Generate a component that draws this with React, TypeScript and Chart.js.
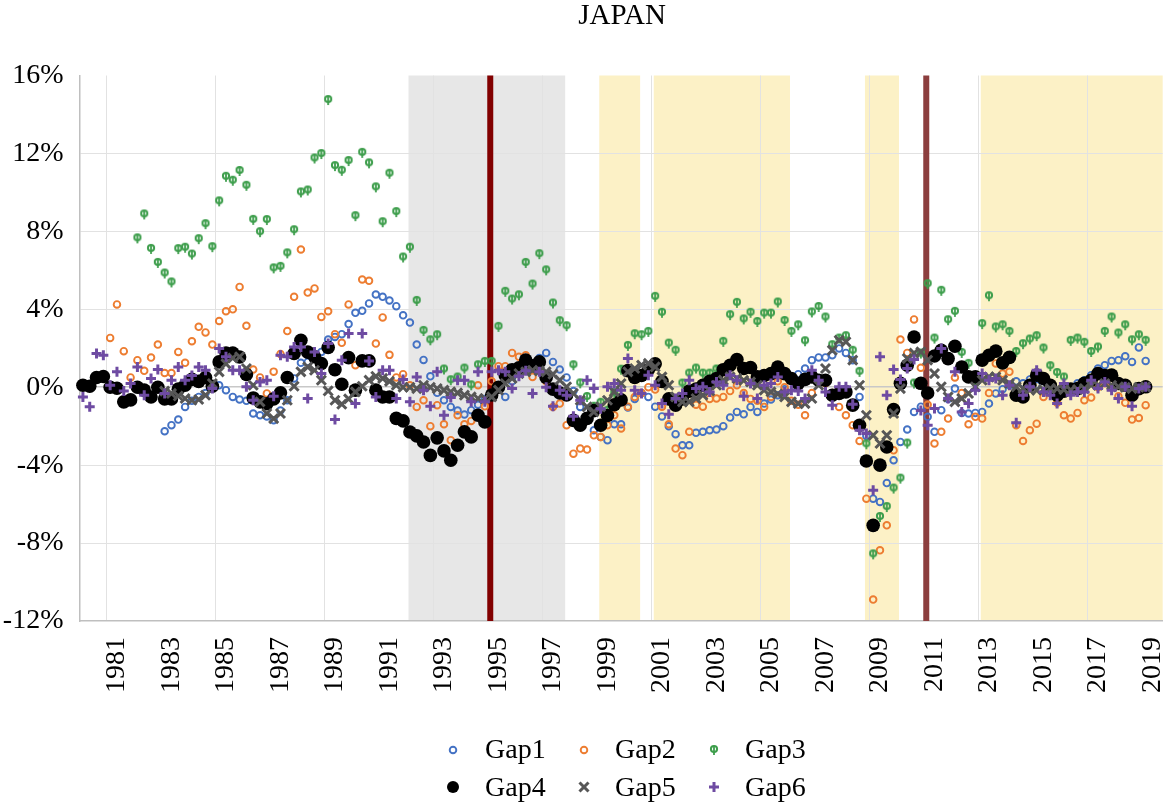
import React, { useEffect, useRef } from 'react';
import { Chart, registerables } from 'chart.js';
import { drawPoint } from 'chart.js/helpers';

Chart.register(...registerables);

const N = null;

// Quarterly categories 1980Q1 .. 2019Q3
const quarters: string[] = [];
for (let y = 1980; y <= 2019; y++) for (let q = 1; q <= 4; q++) quarters.push(y + 'Q' + q);
quarters.length = 159;

// Year tick labels (shown at the 2nd quarter of each odd year)
const yearLabels = ['1981', '1983', '1985', '1987', '1989', '1991', '1993', '1995', '1997', '1999',
  '2001', '2003', '2005', '2007', '2009', '2011', '2013', '2015', '2017', '2019'];
const yearLabelQuarter = 'Q2';
// vertical gridlines at the start of these years
const gridYears = ['1981', '1985', '1989', '1993', '1997', '2001', '2005', '2009', '2013', '2017'];

// Shaded periods and event lines
const grayPeriod = ['1992Q1', '1997Q3'];
const yellowPeriods = [['1999Q1', '2000Q2'], ['2001Q1', '2005Q4'], ['2008Q4', '2009Q4'], ['2013Q1', '2019Q3']];
const eventQuarters = ['1995Q1', '2011Q1'];

const gap1 = [
  N, N, N, N, N, N, N, N,
  N, N, N, N, -2.26, -1.95, -1.66, -1.01,
  -0.7, -0.5, -0.3, 0.0, 0.1, -0.15, -0.5, -0.63,
  -0.7, -1.35, -1.44, -1.5, -1.69, -1.2, -0.67, 0.45,
  1.25, 1.3, 1.5, 1.81, 2.45, 2.58, 2.72, 3.24,
  3.82, 3.92, 4.3, 4.76, 4.64, 4.45, 4.16, 3.69,
  3.32, 2.19, 1.4, 0.56, -0.29, -0.67, -1.01, -1.2,
  -1.4, -1.18, -0.9, -0.6, -0.3, 0.0, -0.5, 0.3,
  0.7, 1.0, 1.2, 1.5, 1.76, 1.3, 0.91, 0.5,
  -0.2, -1.01, -1.6, -2.21, -2.55, -2.72, -1.9, -1.9,
  -1.04, -0.6, -0.3, -0.5, -1.0, -1.5, -2.0, -2.41,
  -2.98, -2.98, -2.34, -2.29, -2.21, -2.17, -2.0, -1.56,
  -1.27, -1.39, -1.01, -1.27, -0.84, -0.63, -0.41, -0.1,
  0.3, 0.67, 0.96, 1.39, 1.53, 1.53, 1.64, 1.99,
  1.76, 1.39, -0.5, -2.5, -5.72, -5.89, -4.92, -3.75,
  -2.81, -2.17, -1.27, -1.0, -1.52, -2.29, -1.18, -0.6,
  -0.07, -1.32, -1.35, -1.32, -1.27, -0.84, -0.32, -0.1,
  0.1, 0.3, 0.2, 0.4, 0.1, 0.3, 0.0, -0.3,
  -0.1, 0.0, 0.2, 0.36, 0.62, 0.96, 1.13, 1.35,
  1.39, 1.59, 1.3, 2.04, 1.35, N, N,
];

const gap2 = [
  N, N, N, N, 2.53, 4.25, 1.85, 0.5,
  1.39, 0.84, 1.52, 2.19, 0.73, 0.73, 1.81, 1.25,
  2.36, 3.1, 2.81, 2.19, 3.4, 3.9, 4.0, 5.15,
  3.15, 0.91, 0.5, -0.32, 0.8, 1.7, 2.88, 4.64,
  7.07, 4.86, 5.07, 3.61, 3.9, 2.72, 2.28, 4.25,
  1.13, 5.53, 5.46, 2.24, 3.58, 1.66, 0.5, 0.67,
  0.1, -1.01, -0.67, -2.0, -0.92, -1.9, -2.72, -1.44,
  -1.9, -1.73, 0.1, -0.98, 0.3, 1.08, 1.08, 1.76,
  1.56, 1.64, 0.53, 1.0, 0.3, -1.01, -0.84, -1.95,
  -3.41, -3.15, -3.2, -2.47, -2.55, -1.95, -1.44, -2.12,
  -1.0, -0.5, -0.3, 0.0, -0.12, -1.0, -1.9, -3.15,
  -3.49, -2.29, -0.9, -1.0, -0.6, -0.58, -0.5, -0.2,
  0.1, -0.3, -0.6, -0.7, -1.01, -0.5, 0.3, 0.0,
  -0.7, -0.9, -1.44, -0.3, 0.3, 0.2, -0.3, -1.01,
  -1.44, -1.95, -2.76, -5.72, -10.9, -8.37, -7.09, -3.24,
  2.45, 1.76, 3.48, 1.0, -0.9, -2.89, -2.29, -1.61,
  0.5, -0.3, -1.9, -1.52, -1.61, -0.3, 1.22, 0.7,
  0.79, -1.95, -2.76, -2.21, -1.87, -0.5, -0.3, -0.8,
  -1.44, -1.61, -1.32, -0.67, -0.53, 0.0, 0.2, 0.0,
  -0.46, -0.8, -1.66, -1.58, -0.92, N, N,
];

const gap3 = [
  N, N, N, N, N, N, N, N,
  7.64, 8.87, 7.1, 6.38, 5.84, 5.38, 7.09, 7.16,
  6.81, 7.6, 8.37, 7.19, 9.54, 10.8, 10.6, 11.1,
  10.34, 8.59, 7.96, 8.58, 6.1, 6.18, 6.87, 8.06,
  10.0, 10.1, 11.74, 11.97, 14.74, 11.35, 11.11, 11.61,
  8.78, 12.03, 11.49, 10.26, 8.47, 10.96, 8.99, 6.66,
  7.16, 4.43, 2.89, 2.41, 2.67, 0.91, 0.36, 0.5,
  0.96, 0.1, 1.13, 1.3, 1.3, 3.1, 4.9, 4.5,
  4.72, 6.38, 5.27, 6.83, 6.0, 4.3, 3.39, 3.13,
  1.13, 0.2, -0.5, -1.0, -0.8, -1.2, -0.3, 0.9,
  2.12, 2.72, 2.67, 2.84, 4.64, 3.82, 2.24, 1.87,
  0.19, 0.7, 0.96, 0.7, 0.7, 0.91, 2.33, 3.7,
  4.33, 3.48, 3.82, 3.35, 3.78, 3.78, 4.35, 3.4,
  2.84, 3.18, 2.36, 3.84, 4.12, 3.58, 2.16, 2.5,
  2.62, 1.87, 0.79, -2.93, -8.58, -6.66, -6.15, -5.2,
  -4.69, -2.89, 0.19, 1.73, 5.29, 2.5, 4.95, 3.44,
  3.87, 1.76, 1.2, 0.2, 3.24, 4.67, 3.07, 3.18,
  2.84, 1.81, 2.21, 2.45, 2.62, 1.99, 1.08, 0.73,
  0.5, 2.38, 2.5, 2.28, 1.81, 2.04, 2.84, 3.58,
  2.76, 3.18, 2.41, 2.67, 2.38, N, N,
];

const gap4 = [
  0.1, 0.05, 0.5, 0.55, 0.0, -0.05, -0.75, -0.65,
  0.0, -0.15, -0.5, 0.0, -0.6, -0.6, -0.1, 0.1,
  0.4, 0.3, 0.5, 0.05, 1.3, 1.75, 1.75, 1.55,
  0.65, -0.55, -0.75, -0.85, -0.6, -0.29, 0.5, 1.73,
  2.41, 1.8, 1.56, 1.22, 2.04, 0.9, 0.15, 1.52,
  -0.15, 1.35, 1.35, -0.15, -0.5, -0.5, -1.6, -1.73,
  -2.3, -2.5, -2.81, -3.5, -2.6, -3.27, -3.75, -2.98,
  -2.29, -2.55, -1.44, -1.78, -0.4, 0.0, 0.6, 0.9,
  1.0, 1.4, 1.1, 1.3, 0.5, -0.1, -0.3, -0.4,
  -1.7, -1.95, -1.6, -1.2, -1.95, -1.45, -0.9, -0.65,
  0.85, 0.5, 0.6, 0.9, 1.2, 0.3, -0.6, -0.92,
  -0.6, -0.2, -0.1, 0.1, 0.3, 0.45, 0.9, 1.13,
  1.42, 0.96, 1.01, 0.53, 0.6, 0.7, 1.04, 0.7,
  0.45, 0.19, 0.4, 0.53, 0.36, 0.36, -0.41, -0.32,
  -0.24, -0.92, -1.95, -3.79, -7.09, -4.0, -3.07, -1.15,
  0.2, 1.13, 2.58, 0.2, -0.3, 1.6, 1.9, 1.47,
  2.1, 1.04, 0.53, 0.53, 1.39, 1.64, 1.85, 1.25,
  1.53, -0.41, -0.5, 0.1, 0.62, 0.45, 0.1, -0.41,
  -0.2, -0.1, -0.07, 0.2, 0.36, 0.7, 0.6, 0.62,
  0.19, 0.1, -0.41, -0.07, 0.02, N, N,
];

const gap5 = [
  N, N, N, N, N, N, N, N,
  N, N, N, N, -0.2, -0.32, -0.45, -0.58,
  -0.67, -0.63, -0.41, 0.19, 0.79, 1.2, 1.5, 1.56,
  0.96, 0.1, -0.75, -1.35, -1.61, -1.35, -0.67, 0.05,
  0.79, 1.04, 0.87, 0.36, -0.19, -0.67, -0.87, -0.6,
  -0.24, 0.05, 0.36, 0.56, 0.45, 0.3, 0.1, 0.0,
  0.0, -0.07, 0.1, 0.0, -0.07, -0.15, -0.24, -0.29,
  -0.41, -0.5, -0.58, -0.58, -0.5, -0.15, 0.19, 0.45,
  0.7, 0.79, 0.87, 0.84, 0.79, 0.67, 0.36, 0.02,
  -0.32, -0.67, -1.01, -1.27, -1.01, -0.67, -0.24, 0.19,
  0.79, 0.96, 1.13, 1.22, 1.04, 0.53, 0.1, -0.5,
  -0.75, -0.75, -0.58, -0.41, -0.19, 0.1, 0.36, 0.53,
  0.45, 0.35, 0.27, 0.1, -0.15, -0.24, -0.35, -0.5,
  -0.75, -0.84, -0.84, -0.58, 0.1, 0.96, 1.9, 2.41,
  2.33, 1.39, 0.1, -1.44, -2.47, -2.89, -2.47, -1.35,
  -0.07, 1.47, 1.75, 1.81, 1.39, 0.7, 0.02, -0.5,
  -0.75, -0.58, -0.32, 0.02, 0.36, 0.53, 0.53, 0.36,
  0.19, 0.02, -0.07, -0.15, -0.15, -0.12, -0.07, -0.07,
  -0.12, -0.15, -0.12, -0.07, 0.1, 0.1, 0.19, 0.1,
  0.02, 0.0, -0.07, 0.0, 0.02, N, N,
];

const gap6 = [
  -0.5, -1.0, 1.73, 1.64, 0.1, 0.79, -0.2, 0.19,
  1.04, -0.41, 0.45, 0.91, -0.32, 0.36, 1.04, 0.36,
  0.6, 1.04, 0.87, -0.07, 1.99, 1.56, 0.87, 0.87,
  0.02, -0.67, 0.27, 0.36, -0.46, 1.64, 1.56, 2.07,
  2.07, -0.58, 1.81, 0.7, 2.24, -1.66, 1.39, 2.76,
  -0.84, 2.76, 1.35, -0.5, 0.87, 0.87, -0.58, 0.39,
  -0.75, 0.53, -0.15, -0.98, 0.79, -1.44, -0.53, 0.36,
  0.36, -0.75, 0.79, -0.75, 0.8, 0.87, 0.79, -0.07,
  0.56, 0.84, -0.32, 0.8, 0.0, -0.98, -0.15, -0.41,
  -1.49, -0.67, 0.36, -0.07, -1.1, 0.02, 0.19, -0.15,
  1.47, -0.15, -0.32, 0.62, 0.1, -0.84, -1.39, -0.58,
  -0.32, 0.36, -0.07, 0.02, -0.24, 0.27, 0.1, 0.62,
  0.36, -0.46, 0.19, -0.58, 0.1, 0.19, 0.53, -0.24,
  -0.15, -0.2, -0.58, 0.87, 0.36, -0.24, -0.92, 0.02,
  0.02, -0.87, -2.21, -2.38, -5.29, 1.56, -0.41, 0.91,
  0.39, 0.96, 1.42, -1.2, -1.95, -1.09, 1.99, -0.58,
  0.79, -1.27, -0.84, -0.15, 0.7, 0.36, 0.45, -0.41,
  0.1, -1.83, -0.41, 0.02, 0.87, -0.24, -0.41, -0.84,
  0.19, -0.41, -0.24, -0.24, 0.36, -0.07, 0.27, -0.15,
  -0.58, 0.02, -0.98, -0.07, 0.02, N, N,
];

const seriesNames = ['Gap1', 'Gap2', 'Gap3', 'Gap4', 'Gap5', 'Gap6'];
const seriesData = [gap1, gap2, gap3, gap4, gap5, gap6];

const BLUE = '#4472C4';
const ORANGE = '#ED7D31';
const GREEN = '#3E9E4C';
const BLACK = '#000000';
const DARKGRAY = '#575757';
const PURPLE = '#6E4BA2';

const FONT_FAMILY = "'Times New Roman', 'Liberation Serif', serif";
const BAND_SHIFT = 2; // px, shading bars sit slightly right of category edges

function makeGreenMarker(): HTMLCanvasElement {
  const c = document.createElement('canvas');
  c.width = 12;
  c.height = 16;
  const g = c.getContext('2d')!;
  g.strokeStyle = GREEN;
  g.lineWidth = 2;
  g.beginPath();
  g.arc(6, 7, 3.1, 0, Math.PI * 2);
  g.stroke();
  g.lineWidth = 1.8;
  g.beginPath();
  g.moveTo(6, 3.8);
  g.lineTo(6, 13);
  g.stroke();
  return c;
}

export default function App() {
  const ref = useRef<HTMLCanvasElement>(null);

  useEffect(() => {
    const canvas = ref.current;
    if (!canvas) return;
    const greenMarker = makeGreenMarker();

    const specs: any[] = [
      { style: 'circle', r: 3.3, bw: 1.9, fill: 'rgba(0,0,0,0)', stroke: BLUE },
      { style: 'circle', r: 3.3, bw: 1.9, fill: 'rgba(0,0,0,0)', stroke: ORANGE },
      { style: greenMarker, r: 4, bw: 0, fill: GREEN, stroke: GREEN },
      { style: 'circle', r: 6.8, bw: 0, fill: BLACK, stroke: BLACK },
      { style: 'crossRot', r: 6.4, bw: 3, fill: DARKGRAY, stroke: DARKGRAY },
      { style: 'cross', r: 5, bw: 3, fill: PURPLE, stroke: PURPLE },
    ];

    const datasets = seriesData.map((d, i) => ({
      label: seriesNames[i],
      data: d,
      showLine: false,
      order: 6 - i,
      pointStyle: specs[i].style,
      pointRadius: specs[i].r,
      pointHoverRadius: specs[i].r,
      pointBorderWidth: specs[i].bw,
      pointBackgroundColor: specs[i].fill,
      pointBorderColor: specs[i].stroke,
      backgroundColor: specs[i].fill,
      borderColor: specs[i].stroke,
    }));

    const idx = (q: string) => quarters.indexOf(q);

    const decor = {
      id: 'decor',
      beforeDraw(chart: any) {
        const { ctx, chartArea: a, scales } = chart;
        const x = scales.x;
        const w = x.getPixelForValue(1) - x.getPixelForValue(0);
        const left = (q: string) => x.getPixelForValue(idx(q)) - w / 2 + BAND_SHIFT;
        const band = (p: string[], color: string) => {
          const x0 = left(p[0]);
          const x1 = Math.min(left(p[1]) + w, a.right);
          ctx.fillStyle = color;
          ctx.fillRect(x0, a.top, x1 - x0, a.bottom - a.top);
        };
        ctx.save();
        band(grayPeriod, '#E7E7E7');
        yellowPeriods.forEach((p) => band(p, '#FCF1C6'));
        ctx.restore();
      },
      beforeDatasetsDraw(chart: any) {
        const { ctx, chartArea: a, scales } = chart;
        const x = scales.x;
        const w = x.getPixelForValue(1) - x.getPixelForValue(0);
        const colors = ['#820000', '#8C3E3E'];
        ctx.save();
        eventQuarters.forEach((q, i) => {
          const px = x.getPixelForValue(idx(q)) - w / 2 + BAND_SHIFT;
          ctx.fillStyle = colors[i];
          ctx.fillRect(px - 3, a.top, 6, a.bottom - a.top);
        });
        ctx.restore();
      },
      afterDraw(chart: any) {
        const { ctx, chartArea: a } = chart;
        ctx.save();
        ctx.fillStyle = '#000';
        ctx.font = `29px ${FONT_FAMILY}`;
        ctx.textAlign = 'center';
        ctx.textBaseline = 'alphabetic';
        ctx.fillText('JAPAN', (a.left + a.right) / 2 + 1, 23.5);

        // legend: 2 rows x 3 columns
        const colMarkerX = [453, 584, 714];
        const colTextX = [485, 615, 745];
        const rowY = [750, 787];
        const rowBase = [758, 796];
        ctx.font = `28px ${FONT_FAMILY}`;
        ctx.textAlign = 'left';
        seriesNames.forEach((name, i) => {
          const r = Math.floor(i / 3);
          const c = i % 3;
          const s = specs[i];
          ctx.save();
          ctx.fillStyle = s.fill;
          ctx.strokeStyle = s.stroke;
          ctx.lineWidth = s.bw;
          const rad = i === 3 ? 6 : s.r;
          drawPoint(ctx, { pointStyle: s.style, rotation: 0, radius: rad, borderWidth: s.bw } as any, colMarkerX[c], rowY[r]);
          ctx.restore();
          ctx.fillStyle = '#000';
          ctx.fillText(name, colTextX[c], rowBase[r]);
        });
        ctx.restore();
      },
    };

    const chart = new Chart(canvas, {
      type: 'line',
      data: { labels: quarters, datasets: datasets as any },
      options: {
        responsive: false,
        animation: false,
        events: [],
        layout: { autoPadding: false, padding: { top: 75.5, right: 1.3, bottom: 0, left: 0 } },
        plugins: {
          legend: { display: false },
          tooltip: { enabled: false },
          title: { display: false },
        },
        scales: {
          x: {
            type: 'category',
            offset: true,
            afterFit: (s: any) => {
              s.height = 183;
              s.paddingLeft = 0;
              s.paddingRight = 0;
            },
            grid: {
              display: true,
              offset: true,
              drawTicks: false,
              lineWidth: 1,
              color: (c: any) => {
                const q = quarters[c.index];
                if (!q) return 'rgba(0,0,0,0)';
                return q.endsWith('Q1') && gridYears.includes(q.slice(0, 4)) ? '#E2E2E2' : 'rgba(0,0,0,0)';
              },
            },
            border: { display: true, color: '#BFBFBF', width: 1.5 },
            ticks: {
              autoSkip: false,
              minRotation: 90,
              maxRotation: 90,
              padding: 16,
              color: '#000',
              font: { family: FONT_FAMILY, size: 28 },
              callback: (v: any, i: number) => {
                const q = quarters[i];
                if (q && q.endsWith(yearLabelQuarter) && yearLabels.includes(q.slice(0, 4))) return q.slice(0, 4);
                return '';
              },
            },
          },
          y: {
            min: -12,
            max: 16,
            afterFit: (s: any) => {
              s.width = 79.5;
            },
            grid: {
              drawTicks: false,
              color: (c: any) => {
                const v = c.tick && c.tick.value;
                if (v === 16 || v === -12) return 'rgba(0,0,0,0)';
                if (v === 0) return '#C8C8C8';
                return '#E2E2E2';
              },
              lineWidth: (c: any) => (c.tick && c.tick.value === 0 ? 1.6 : 1),
            },
            border: { display: true, color: '#BFBFBF', width: 1.5 },
            ticks: {
              stepSize: 4,
              padding: 16,
              color: '#000',
              font: { family: FONT_FAMILY, size: 28 },
              callback: (v: any) => `${v}%`,
            },
          },
        },
      },
      plugins: [decor],
    });

    return () => chart.destroy();
  }, []);

  return (
    <div style={{ position: 'fixed', left: 0, top: 0, width: 1164, height: 804, background: '#fff' }}>
      <canvas ref={ref} width={1164} height={804} style={{ width: 1164, height: 804, display: 'block' }} />
    </div>
  );
}
